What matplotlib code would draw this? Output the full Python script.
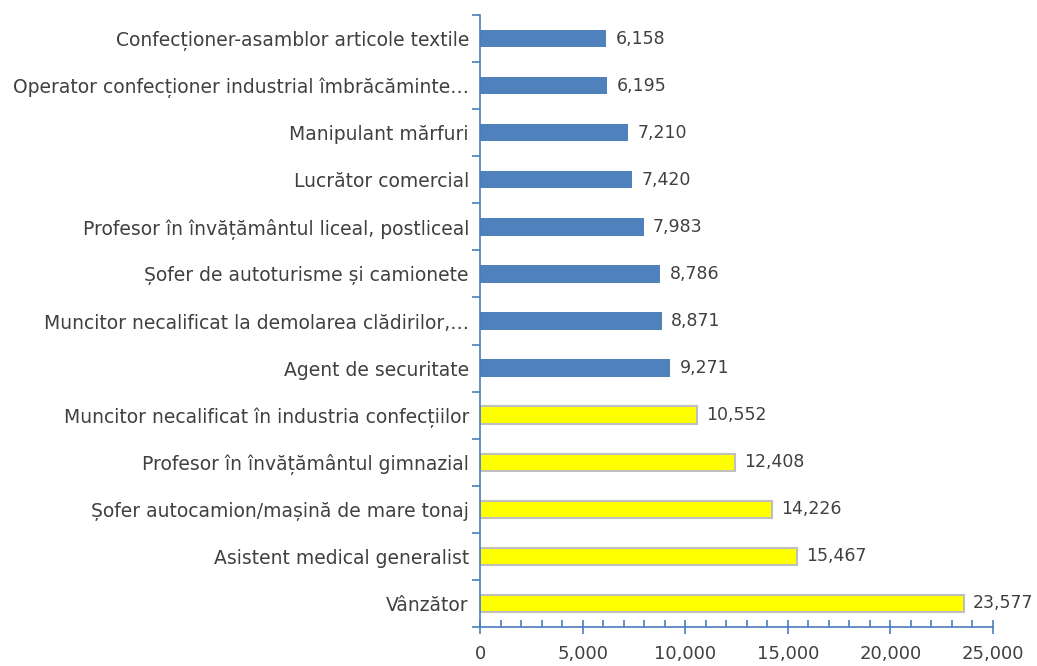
import matplotlib.pyplot as plt
import numpy as np
from matplotlib.ticker import MultipleLocator, FuncFormatter

# date: ocupatii si valori (de jos in sus)
ocupatii = [
    "Vânzător",
    "Asistent medical generalist",
    "Șofer autocamion/mașină de mare tonaj",
    "Profesor în învățământul gimnazial",
    "Muncitor necalificat în industria confecțiilor",
    "Agent de securitate",
    "Muncitor necalificat la demolarea clădirilor,…",
    "Șofer de autoturisme și camionete",
    "Profesor în învățământul liceal, postliceal",
    "Lucrător comercial",
    "Manipulant mărfuri",
    "Operator confecționer industrial îmbrăcăminte…",
    "Confecționer-asamblor articole textile",
]
valori = [23577, 15467, 14226, 12408, 10552, 9271, 8871, 8786, 7983, 7420, 7210, 6195, 6158]
evidentiate = 5  # primele 5 sunt galbene

axa_col = "#4a7ebb"
text_col = "#404040"

fig = plt.figure(figsize=(10.37, 6.66), dpi=100)
ax = fig.add_axes([480 / 1037, 1 - 627 / 666, 513 / 1037, 612 / 666])

y = np.arange(len(ocupatii))
for i in range(len(ocupatii)):
    if i < evidentiate:
        ax.barh(y[i], valori[i], height=0.37, color="#ffff00", edgecolor="#bfbfbf", linewidth=1.5)
    else:
        ax.barh(y[i], valori[i], height=0.37, color="#4f81bd")
    ax.text(valori[i] + 450, y[i], f"{valori[i]:,}", va="center", ha="left",
            fontsize=12.5, color=text_col)

ax.set_xlim(0, 25000)
ax.set_ylim(-0.5, len(ocupatii) - 0.5)

ax.set_yticks(y)
ax.set_yticklabels(ocupatii, fontsize=13.5, color=text_col)
ax.tick_params(axis="y", which="major", length=0, pad=8)
ax.set_yticks(np.arange(-0.5, len(ocupatii), 1), minor=True)
ax.tick_params(axis="y", which="minor", length=6, color=axa_col, width=1.2, direction="out")

ax.xaxis.set_major_locator(MultipleLocator(5000))
ax.xaxis.set_minor_locator(MultipleLocator(1000))
ax.xaxis.set_major_formatter(FuncFormatter(lambda v, p: f"{int(v):,}"))
ax.tick_params(axis="x", which="major", length=10, direction="inout", color=axa_col,
               width=1.2, labelsize=13, labelcolor=text_col, pad=8)
ax.tick_params(axis="x", which="minor", length=5, direction="in", color=axa_col, width=1.2)

for s in ["top", "right"]:
    ax.spines[s].set_visible(False)
for s in ["left", "bottom"]:
    ax.spines[s].set_color(axa_col)
    ax.spines[s].set_linewidth(1.2)

fig.savefig("out.png", dpi=100)
